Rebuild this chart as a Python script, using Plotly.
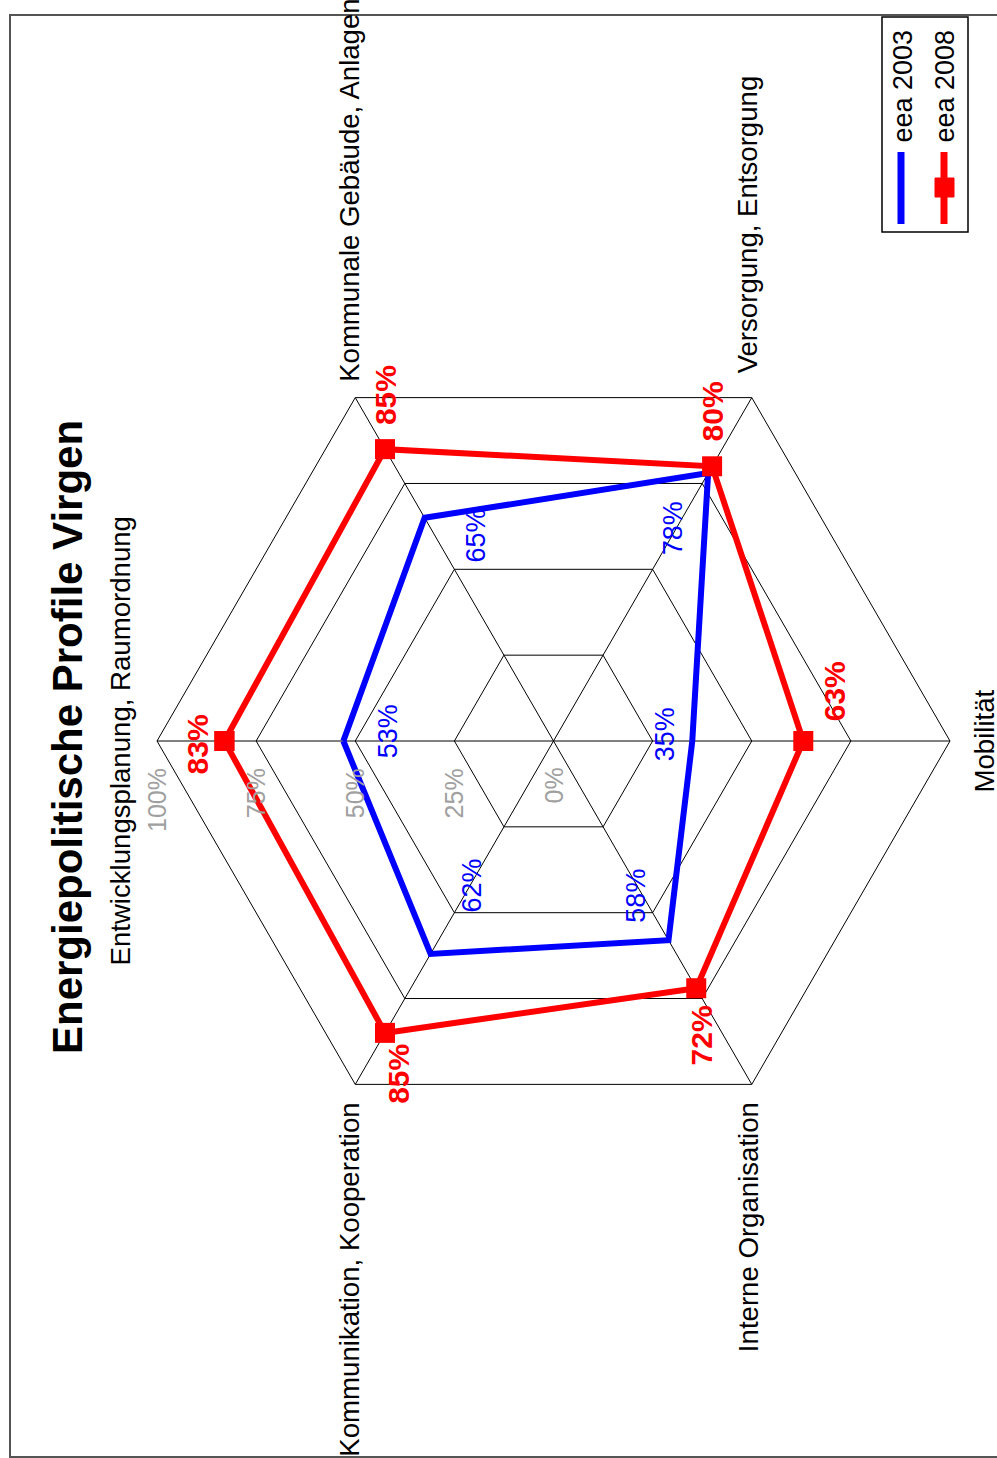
import math
import plotly.graph_objects as go

# ---------------- data ----------------
categories = ["Entwicklungsplanung, Raumordnung", "Kommunale Gebäude, Anlagen",
              "Versorgung, Entsorgung", "Mobilität", "Interne Organisation",
              "Kommunikation, Kooperation"]
eea_2003 = [53, 65, 78, 35, 58, 62]
eea_2008 = [83, 85, 80, 63, 72, 85]
grid_levels = [0, 25, 50, 75, 100]
grid_labels = ["0%", "25%", "50%", "75%", "100%"]
series_names = ["eea 2003", "eea 2008"]
title_text = "Energiepolitische Profile Virgen"

# ---------------- layout constants ----------------
W, H = 997, 1458
CX, CY, R = 553.5, 741, 396.5          # centre and radius (pixels)
FONT = "Liberation Sans, Arial, sans-serif"
RED, BLUE, GRAY = "#FF0000", "#0000FF", "#A0A0A0"

n = len(categories)
angles = [math.radians(180 - 360 / n * i) for i in range(n)]   # clockwise from left


def pol(v, i):
    r = v / 100.0
    return r * math.cos(angles[i]), r * math.sin(angles[i])


def px(x):
    return x / W


def py(y):
    return 1 - y / H


fig = go.Figure()

# grid hexagons and spokes
for lv in grid_levels[1:]:
    pts = [pol(lv, i) for i in range(n)] + [pol(lv, 0)]
    fig.add_trace(go.Scatter(x=[p[0] for p in pts], y=[p[1] for p in pts], mode="lines",
                             line=dict(color="black", width=1), hoverinfo="skip", showlegend=False))
for i in range(n):
    e = pol(100, i)
    fig.add_trace(go.Scatter(x=[0, e[0]], y=[0, e[1]], mode="lines",
                             line=dict(color="black", width=1), hoverinfo="skip", showlegend=False))

# series
p03 = [pol(v, i) for i, v in enumerate(eea_2003)]
p03.append(p03[0])
fig.add_trace(go.Scatter(x=[p[0] for p in p03], y=[p[1] for p in p03], mode="lines",
                         name=series_names[0], line=dict(color=BLUE, width=6), showlegend=False))
p08 = [pol(v, i) for i, v in enumerate(eea_2008)]
p08.append(p08[0])
fig.add_trace(go.Scatter(x=[p[0] for p in p08], y=[p[1] for p in p08], mode="lines+markers",
                         name=series_names[1], line=dict(color=RED, width=6),
                         marker=dict(symbol="square", size=20, color=RED), showlegend=False))

ann = []
# grid labels
for lv, lab in zip(grid_levels, grid_labels):
    x, y = pol(lv, 0)
    ann.append(dict(x=x, y=y, xref="x", yref="y", text=lab, textangle=-90, showarrow=False,
                    xanchor="center", yanchor="top", yshift=-25,
                    font=dict(family=FONT, size=25, color=GRAY)))

# category labels: (xanchor, yanchor, xshift, yshift)
cat_pos = [("right", "middle", -20, 0), ("center", "bottom", -6, 14),
           ("center", "bottom", -4, 22), ("left", "middle", 16, 0),
           ("center", "top", -3, -16), ("center", "top", -6, -16)]
for i, c in enumerate(categories):
    x, y = pol(100, i)
    xa, ya, xs, ys = cat_pos[i]
    ann.append(dict(x=x, y=y, xref="x", yref="y", text=c, textangle=-90, showarrow=False,
                    xanchor=xa, yanchor=ya, xshift=xs, yshift=ys,
                    font=dict(family=FONT, size=27.6, color="black")))

# value labels (screen offsets dx, dy-down)
off08 = [(-27, 3), (0, -54), (0, -55), (31, -50), (5, 47), (14, 41)]
off03 = [(45, -10), (51, 18), (-35, 55), (-27, -7), (-32, -45), (41, -68)]
for i, v in enumerate(eea_2003):
    x, y = pol(v, i)
    ann.append(dict(x=x, y=y, xref="x", yref="y", text=f"{v}%", textangle=-90, showarrow=False,
                    xanchor="center", yanchor="middle", xshift=off03[i][0], yshift=-off03[i][1],
                    font=dict(family=FONT, size=27, color=BLUE)))
for i, v in enumerate(eea_2008):
    x, y = pol(v, i)
    ann.append(dict(x=x, y=y, xref="x", yref="y", text=f"<b>{v}%</b>", textangle=-90,
                    showarrow=False, xanchor="center", yanchor="middle",
                    xshift=off08[i][0], yshift=-off08[i][1],
                    font=dict(family=FONT, size=30, color=RED)))

# title
ann.append(dict(x=px(67), y=py(737), xref="paper", yref="paper", text=f"<b>{title_text}</b>",
                textangle=-90, showarrow=False, xanchor="center", yanchor="middle",
                font=dict(family=FONT, size=42, color="black")))

# legend texts
for name, xc in zip(series_names, [903, 945]):
    ann.append(dict(x=px(xc), y=py(145), xref="paper", yref="paper", text=name, textangle=-90,
                    showarrow=False, xanchor="center", yanchor="bottom",
                    font=dict(family=FONT, size=27, color="black")))

shapes = [
    # outer frame
    dict(type="rect", xref="paper", yref="paper", x0=px(10), x1=px(1005), y0=py(1457), y1=py(15),
         line=dict(color="#555555", width=2), fillcolor="rgba(0,0,0,0)", layer="below"),
    # legend box
    dict(type="rect", xref="paper", yref="paper", x0=px(882), x1=px(968), y0=py(232), y1=py(17),
         line=dict(color="black", width=1.5), fillcolor="white"),
    # legend samples
    dict(type="line", xref="paper", yref="paper", x0=px(901), x1=px(901), y0=py(152), y1=py(224),
         line=dict(color=BLUE, width=7)),
    dict(type="line", xref="paper", yref="paper", x0=px(944), x1=px(944), y0=py(152), y1=py(224),
         line=dict(color=RED, width=7)),
    dict(type="rect", xref="paper", yref="paper", x0=px(935), x1=px(954), y0=py(197), y1=py(178),
         line=dict(color=RED, width=1), fillcolor=RED),
]

fig.update_layout(
    width=W, height=H, margin=dict(l=0, r=0, t=0, b=0, pad=0),
    paper_bgcolor="white", plot_bgcolor="white", showlegend=False,
    xaxis=dict(range=[-CX / R, (W - CX) / R], visible=False, fixedrange=True),
    yaxis=dict(range=[-(H - CY) / R, CY / R], visible=False, fixedrange=True),
    annotations=ann, shapes=shapes,
)

fig.write_html("out.html")
